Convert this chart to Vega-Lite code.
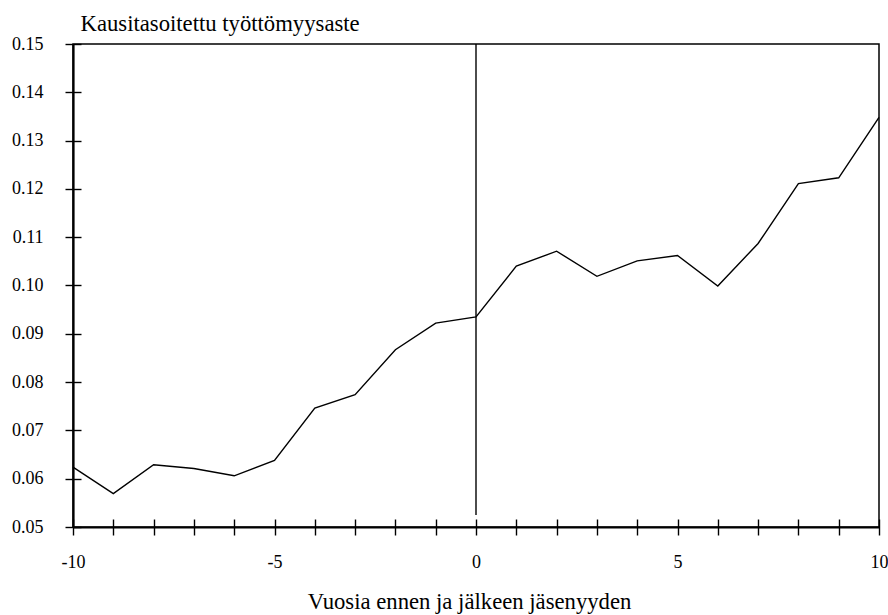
{
  "$schema": "https://vega.github.io/schema/vega-lite/v6.json",
  "width": 806,
  "height": 483,
  "autosize": {"type": "none"},
  "padding": {"left": 73, "top": 44, "right": 9, "bottom": 88},
  "background": "white",
  "config": {
    "font": "Liberation Serif",
    "view": {"stroke": "black", "strokeWidth": 1.5},
    "axis": {"grid": false, "labelFont": "Liberation Serif", "titleFont": "Liberation Serif", "labelColor": "black", "titleColor": "black", "domainColor": "black", "tickColor": "black", "titleFontWeight": "normal"}
  },
  "datasets": {
    "series": [
      {"year": -10, "rate": 0.0624},
      {"year": -9, "rate": 0.0569},
      {"year": -8, "rate": 0.0629},
      {"year": -7, "rate": 0.0621},
      {"year": -6, "rate": 0.0606},
      {"year": -5, "rate": 0.0638},
      {"year": -4, "rate": 0.0746},
      {"year": -3, "rate": 0.0774},
      {"year": -2, "rate": 0.0867},
      {"year": -1, "rate": 0.0922},
      {"year": 0, "rate": 0.0935},
      {"year": 1, "rate": 0.1040},
      {"year": 2, "rate": 0.1071},
      {"year": 3, "rate": 0.1019},
      {"year": 4, "rate": 0.1051},
      {"year": 5, "rate": 0.1062},
      {"year": 6, "rate": 0.0999},
      {"year": 7, "rate": 0.1087},
      {"year": 8, "rate": 0.1211},
      {"year": 9, "rate": 0.1223},
      {"year": 10, "rate": 0.1348}
    ],
    "marker": [
      {"year": 0, "low": 0.0525, "high": 0.15}
    ]
  },
  "resolve": {"axis": {"x": "independent", "y": "independent"}},
  "layer": [
    {
      "data": {"name": "series"},
      "mark": {"type": "line", "color": "black", "strokeWidth": 1.4},
      "encoding": {
        "x": {
          "field": "year", "type": "quantitative",
          "scale": {"domain": [-10, 10], "nice": false, "zero": false},
          "axis": {
            "orient": "bottom", "offset": -8, "domain": false,
            "tickSize": 16, "tickWidth": 1.4,
            "values": [-10, -9, -8, -7, -6, -5, -4, -3, -2, -1, 0, 1, 2, 3, 4, 5, 6, 7, 8, 9, 10],
            "labelExpr": "datum.value % 5 == 0 ? '' + datum.value : ''",
            "labelFont": "Liberation Serif",
            "labelFontSize": 18, "labelBaseline": "alphabetic", "labelPadding": 32,
            "labelOverlap": false, "labelFlush": false,
            "title": null
          }
        },
        "y": {
          "field": "rate", "type": "quantitative",
          "scale": {"domain": [0.05, 0.15], "nice": false, "zero": false},
          "axis": {
            "orient": "left", "offset": -8, "domain": false,
            "tickSize": 16, "tickWidth": 1.4,
            "values": [0.05, 0.06, 0.07, 0.08, 0.09, 0.10, 0.11, 0.12, 0.13, 0.14, 0.15],
            "format": ".2f",
            "labelFont": "Liberation Serif",
            "labelFontSize": 18, "labelPadding": 22, "labelBaseline": "middle",
            "labelOverlap": false, "labelFlush": false,
            "title": null
          }
        }
      }
    },
    {
      "data": {"name": "marker"},
      "mark": {"type": "rule", "color": "black", "strokeWidth": 1.4},
      "encoding": {
        "x": {
          "field": "year", "type": "quantitative",
          "axis": {
            "orient": "bottom", "domain": true, "domainWidth": 2.2,
            "ticks": false, "labels": false,
            "title": "Vuosia ennen ja jälkeen jäsenyyden",
            "titleFont": "Liberation Serif",
            "titleFontSize": 22.7, "titleBaseline": "alphabetic",
            "titleAlign": "center", "titleX": 396, "titleY": 81
          }
        },
        "y": {
          "field": "low", "type": "quantitative",
          "axis": {
            "orient": "left", "domain": true, "domainWidth": 2.2,
            "ticks": false, "labels": false,
            "title": "Kausitasoitettu työttömyysaste",
            "titleFont": "Liberation Serif",
            "titleFontSize": 22.7, "titleAngle": 0, "titleBaseline": "alphabetic",
            "titleAlign": "left", "titleX": 7, "titleY": -14
          }
        },
        "y2": {"field": "high"}
      }
    }
  ]
}
